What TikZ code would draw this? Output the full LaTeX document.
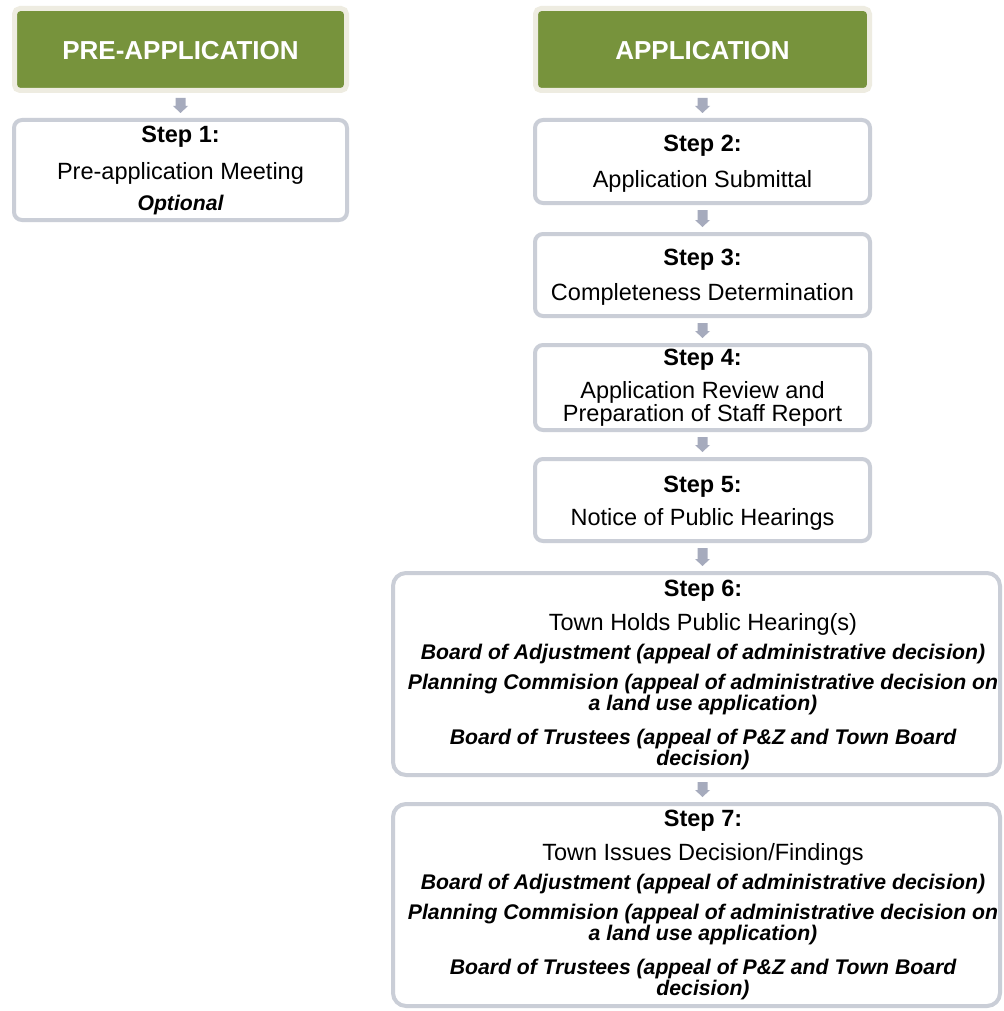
\documentclass[tikz,border=0pt]{standalone}
\usepackage{fontspec}
\setmainfont{Liberation Sans}
\usetikzlibrary{calc}
\definecolor{hdrgreen}{HTML}{77933C}
\definecolor{hdrbeige}{HTML}{EEECE1}
\definecolor{boxgray}{HTML}{CACED7}
\definecolor{arrgray}{HTML}{A6ABBD}
\tikzset{
  header/.style={draw=hdrbeige, fill=hdrgreen, line width=5pt, rounded corners=5.5pt, inner sep=0pt, outer sep=2.5pt},
  stepbox/.style={draw=boxgray, fill=white, line width=4pt, rounded corners=8pt, inner sep=0pt, outer sep=2pt},
  bigbox/.style={stepbox, rounded corners=13pt},
  hdrtext/.style={anchor=base, text=white, font=\fontsize{26}{30}\selectfont\bfseries, inner sep=0pt},
  steplabel/.style={anchor=base, font=\fontsize{23.5}{28}\selectfont\bfseries, inner sep=0pt},
  plaintext/.style={anchor=base, font=\fontsize{23.5}{28}\selectfont, inner sep=0pt},
  plaintwo/.style={anchor=base, align=center, font=\fontsize{23.5}{21}\selectfont, inner sep=0pt},
  notetext/.style={anchor=base, align=center, font=\fontsize{21.2}{17.5}\selectfont\bfseries\itshape, inner sep=0pt},
  flowarrowfill/.style={fill=arrgray}
}
\newcommand{\flowarrow}[3]{%
  \fill[flowarrowfill] let \p0=(#1), \p1=(#2.south), \p2=(#3.north) in
    (\x0-5pt,\y1-5pt) -- (\x0+5pt,\y1-5pt) -- (\x0+5pt,\y2+12pt) -- (\x0+7.5pt,\y2+12pt)
    -- (\x0,\y2+5pt) -- (\x0-7.5pt,\y2+12pt) -- (\x0-5pt,\y2+12pt) -- cycle;}
\begin{document}
\begin{tikzpicture}[x=1pt,y=-1pt]
\useasboundingbox (0,0) rectangle (1003,1011);
\clip (0,0) rectangle (1003,1011);
\fill[white] (0,0) rectangle (1003,1011);

% headers
\node[header, minimum width=332pt, minimum height=82pt] (h1) at (180.5,49.5) {};
\node[hdrtext] (h1t) at (180.5,60) {PRE-APPLICATION};
\node[header, minimum width=334pt, minimum height=82pt] (h2) at (702.5,49.5) {};
\node[hdrtext] (h2t) at (702.5,60) {APPLICATION};

% left column
\node[stepbox, minimum width=333pt, minimum height=100pt] (s1) at (180.5,170) {};
\node[steplabel] (s1a) at (180.5,143) {Step 1:};
\node[plaintext] (s1b) at (180.5,180) {Pre-application Meeting};
\node[notetext] (s1c) at (180.5,211) {Optional};

% right column
\node[stepbox, minimum width=335pt, minimum height=83pt] (s2) at (702.5,161.5) {};
\node[steplabel] (s2a) at (702.5,152) {Step 2:};
\node[plaintext] (s2b) at (702.5,187) {Application Submittal};

\node[stepbox, minimum width=335pt, minimum height=82pt] (s3) at (702.5,275) {};
\node[steplabel] (s3a) at (702.5,265) {Step 3:};
\node[plaintext] (s3b) at (702.5,300) {Completeness Determination};

\node[stepbox, minimum width=335pt, minimum height=85pt] (s4) at (702.5,387.5) {};
\node[steplabel] (s4a) at (702.5,365) {Step 4:};
\node[plaintwo] (s4b) at (702.5,421) {Application Review and\\Preparation of Staff Report};

\node[stepbox, minimum width=335pt, minimum height=82pt] (s5) at (702.5,500) {};
\node[steplabel] (s5a) at (702.5,492) {Step 5:};
\node[plaintext] (s5b) at (702.5,525) {Notice of Public Hearings};

\node[bigbox, minimum width=607pt, minimum height=202pt] (s6) at (696.5,674) {};
\node[steplabel] (s6a) at (703,596) {Step 6:};
\node[plaintext] (s6b) at (703,630) {Town Holds Public Hearing(s)};
\node[notetext] (s6c) at (703,659) {Board of Adjustment (appeal of administrative decision)};
\node[notetext] (s6d) at (703,710) {Planning Commision (appeal of administrative decision on\\a land use application)};
\node[notetext] (s6f) at (703,765) {Board of Trustees (appeal of P\&Z and Town Board\\decision)};

\node[bigbox, minimum width=607pt, minimum height=202pt] (s7) at (696.5,905) {};
\node[steplabel] (s7a) at (703,826) {Step 7:};
\node[plaintext] (s7b) at (703,860) {Town Issues Decision/Findings};
\node[notetext] (s7c) at (703,889) {Board of Adjustment (appeal of administrative decision)};
\node[notetext] (s7d) at (703,940) {Planning Commision (appeal of administrative decision on\\a land use application)};
\node[notetext] (s7f) at (703,995) {Board of Trustees (appeal of P\&Z and Town Board\\decision)};

% arrows
\flowarrow{h1.south}{h1}{s1}
\flowarrow{h2.south}{h2}{s2}
\flowarrow{s2.south}{s2}{s3}
\flowarrow{s3.south}{s3}{s4}
\flowarrow{s4.south}{s4}{s5}
\flowarrow{s5.south}{s5}{s6}
\flowarrow{s5.south}{s6}{s7}
\end{tikzpicture}
\end{document}
